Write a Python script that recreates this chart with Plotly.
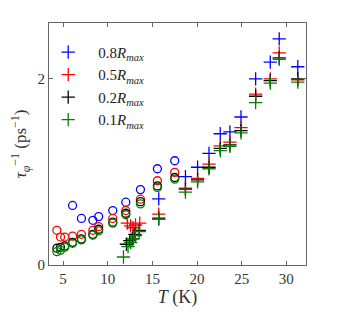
import plotly.graph_objects as go

# Temperatures (K)
T_circ = [4.3, 4.71, 5.18, 6.06, 7.05, 8.33, 8.98, 10.56, 12.02, 13.66, 15.56, 17.5]
T_blue_circ = [6.06, 7.05, 8.33, 8.98, 10.56, 12.02, 13.66, 15.56, 17.5]
T_cross = [15.71, 18.7, 20.06, 21.34, 22.6, 23.68, 24.92, 26.56, 28.2, 29.2, 31.28]
T_red_low = [12.19, 12.56, 12.82, 13.11, 13.58]
T_black_low = [12.09, 12.46, 12.75, 13.04, 13.52]
T_green_low = [11.76, 12.27, 12.57, 12.86, 13.11, 13.52]

# 0.8 Rmax (blue)
blue_circ = [0.64, 0.50, 0.48, 0.52, 0.585, 0.675, 0.81, 1.034, 1.12]
blue_cross = [0.71, 0.95, 1.05, 1.20, 1.41, 1.43, 1.59, 2.00, 2.18, 2.43, 2.13]

# 0.5 Rmax (red)
red_circ = [0.373, 0.30, 0.30, 0.31, 0.33, 0.373, 0.413, 0.50, 0.585, 0.707, 0.905, 0.995]
red_low = [0.449, 0.42, 0.40, 0.43, 0.449]
red_cross = [0.546, 0.826, 0.93, 1.084, 1.28, 1.32, 1.476, 1.835, 2.0, 2.28, 1.99]

# 0.2 Rmax (black)
black_circ = [0.18, 0.19, 0.205, 0.244, 0.28, 0.33, 0.384, 0.46, 0.556, 0.68, 0.85, 0.94]
black_low = [0.223, 0.262, 0.28, 0.33, 0.373]
black_cross = [0.503, 0.815, 0.915, 1.05, 1.253, 1.29, 1.443, 1.813, 1.98, 2.226, 2.0]

# 0.1 Rmax (green)
green_circ = [0.144, 0.16, 0.19, 0.233, 0.27, 0.32, 0.366, 0.45, 0.54, 0.657, 0.833, 0.923]
green_low = [0.086, 0.197, 0.24, 0.28, 0.316, 0.36]
green_cross = [0.49, 0.783, 0.894, 1.034, 1.228, 1.275, 1.42, 1.745, 1.953, 2.21, 1.964]

labels = ["0.8<i>R</i><sub><i>max</i></sub>", "0.5<i>R</i><sub><i>max</i></sub>",
          "0.2<i>R</i><sub><i>max</i></sub>", "0.1<i>R</i><sub><i>max</i></sub>"]
colors = ["#0000ff", "#ff0000", "#000000", "#008000"]

series = [
    (T_blue_circ, blue_circ, [], [], T_cross, blue_cross),
    (T_circ, red_circ, T_red_low, red_low, T_cross, red_cross),
    (T_circ, black_circ, T_black_low, black_low, T_cross, black_cross),
    (T_circ, green_circ, T_green_low, green_low, T_cross, green_cross),
]

fig = go.Figure()
for (tc, yc, tl, yl, tx, yx), col in zip(series, colors):
    fig.add_trace(go.Scatter(x=tc, y=yc, mode="markers", showlegend=False,
                             marker=dict(symbol="circle-open", size=8, color=col,
                                         line=dict(width=1.3, color=col))))
for (tc, yc, tl, yl, tx, yx), col, lab in zip(series, colors, labels):
    fig.add_trace(go.Scatter(x=list(tl) + list(tx), y=list(yl) + list(yx), mode="markers",
                             name=lab,
                             marker=dict(symbol="cross-thin-open", size=9.5, color=col,
                                         line=dict(width=1.3, color=col))))

axcol = "#666666"
fig.update_layout(
    width=331, height=308,
    margin=dict(l=35, r=33, t=15, b=51),
    plot_bgcolor="white", paper_bgcolor="white",
    font=dict(family="Liberation Serif, DejaVu Serif, serif", size=15, color="#333333"),
    showlegend=True,
    legend=dict(x=-0.042, y=0.947, xanchor="left", yanchor="top",
                bgcolor="rgba(0,0,0,0)", font=dict(size=15, color="#222222"),
                tracegroupgap=0, itemwidth=50),
    xaxis=dict(range=[3.42, 32.2], tickvals=[5, 10, 15, 20, 25, 30],
               showline=True, linecolor=axcol, linewidth=1, mirror="ticks",
               ticks="inside", ticklen=4, tickcolor=axcol, showgrid=False, zeroline=False,
               title=dict(text="<i>T</i> (K)", font=dict(size=18), standoff=2)),
    yaxis=dict(range=[0, 2.6], tickvals=[0, 2],
               showline=True, linecolor=axcol, linewidth=1, mirror="ticks",
               ticks="inside", ticklen=4, tickcolor=axcol, showgrid=False, zeroline=False,
               title=dict(text="<i>τ</i><sub><i>φ</i></sub><sup>−1</sup> (ps<sup>−1</sup>)",
                          font=dict(size=17), standoff=6)),
)

fig.write_html("out.html")
